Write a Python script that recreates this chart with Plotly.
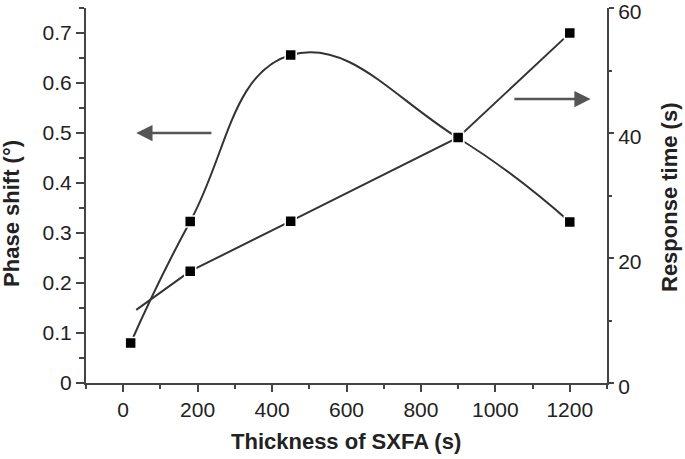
import plotly.graph_objects as go

thickness_phase = [20, 180, 450, 900, 1200]
phase_shift = [0.08, 0.323, 0.656, 0.49, 0.322]

# first response point is the unmarked start of the line
thickness_resp = [35, 180, 450, 900, 1200]
response_time = [11.7, 17.9, 25.9, 39.3, 56.0]

x_ticks = [0, 200, 400, 600, 800, 1000, 1200]
y1_ticks = [0, 0.1, 0.2, 0.3, 0.4, 0.5, 0.6, 0.7]
y1_labels = ["0", "0.1", "0.2", "0.3", "0.4", "0.5", "0.6", "0.7"]
y2_ticks = [0, 20, 40, 60]

FONT = "Liberation Sans, Arial, sans-serif"
LINE = "#333333"
AX = "#444444"
TXT = "#222222"
MARK = dict(symbol="square", size=11, color="#000000", line=dict(color="white", width=1.5))

fig = go.Figure()
fig.add_trace(go.Scatter(
    x=thickness_phase, y=phase_shift, mode="lines+markers",
    line=dict(shape="spline", smoothing=1.3, color=LINE, width=2),
    marker=MARK, xaxis="x", yaxis="y", showlegend=False,
))
fig.add_trace(go.Scatter(
    x=thickness_resp, y=response_time, mode="lines",
    line=dict(color=LINE, width=2),
    xaxis="x", yaxis="y2", showlegend=False,
))
fig.add_trace(go.Scatter(
    x=thickness_resp[1:], y=response_time[1:], mode="markers",
    marker=MARK, xaxis="x", yaxis="y2", showlegend=False,
))

axis_common = dict(showgrid=False, zeroline=False, showline=True, linecolor=AX, linewidth=2,
                   tickcolor=AX, tickwidth=1.5, automargin=False, ticklabeloverflow="allow",
                   tickfont=dict(family=FONT, size=21, color=TXT))

title_font = dict(family=FONT, size=22, color=TXT)

fig.update_layout(
    width=685, height=459,
    margin=dict(l=86, r=78, t=8, b=76),
    paper_bgcolor="white", plot_bgcolor="white",
    xaxis=dict(range=[-100, 1300], tickvals=x_ticks, ticks="outside", ticklen=7,
               minor=dict(dtick=100, ticks="outside", ticklen=4, tickcolor=AX),
               **axis_common),
    xaxis2=dict(range=[-100, 1300], overlaying="x", side="top", anchor="y", dtick=100,
                ticks="inside", ticklen=5, showticklabels=False, automargin=False,
                showgrid=False, zeroline=False, showline=True, linecolor=AX, linewidth=2,
                tickcolor=AX, tickwidth=1.5),
    yaxis=dict(range=[0, 0.75], tickvals=y1_ticks, ticktext=y1_labels,
               ticks="outside", ticklen=8,
               minor=dict(dtick=0.05, ticks="outside", ticklen=5, tickcolor=AX),
               **axis_common),
    yaxis2=dict(range=[0, 60.02], tickvals=y2_ticks, overlaying="y", side="right", anchor="x",
                ticks="outside", ticklen=5, ticklabelshift=4,
                minor=dict(dtick=10, ticks="outside", ticklen=3, tickcolor=AX),
                **axis_common),
    annotations=[
        dict(x=35, y=0.5, ax=241, ay=0.5, xref="x", yref="y", axref="x", ayref="y",
             showarrow=True, arrowhead=2, arrowsize=1.3, arrowwidth=2.5, arrowcolor="#555555", text=""),
        dict(x=1256, y=0.568, ax=1047, ay=0.568, xref="x", yref="y", axref="x", ayref="y",
             showarrow=True, arrowhead=2, arrowsize=1.3, arrowwidth=2.5, arrowcolor="#555555", text=""),
        dict(text="<b>Thickness of SXFA (s)</b>", x=0.499, y=-0.157, xref="paper", yref="paper",
             xanchor="center", yanchor="middle", showarrow=False, font=title_font),
        dict(text="<b>Phase shift (°)</b>", x=-0.142, y=0.451, xref="paper", yref="paper",
             xanchor="center", yanchor="middle", showarrow=False, textangle=-90, font=title_font),
        dict(text="<b>Response time (s)</b>", x=1.119, y=0.496, xref="paper", yref="paper",
             xanchor="center", yanchor="middle", showarrow=False, textangle=-90, font=title_font),
    ],
)

fig.write_html("out.html", config={"displayModeBar": False},
               post_script="document.body.style.margin='0';document.body.style.padding='0';")
